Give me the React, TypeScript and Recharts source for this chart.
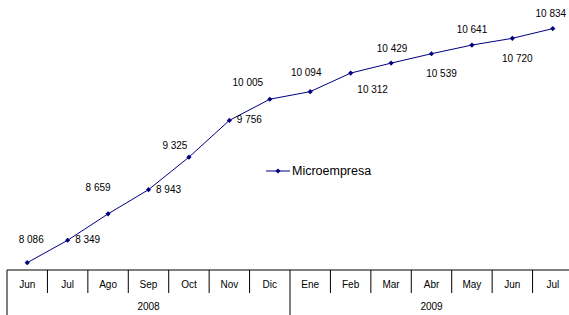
import React from 'react';
import { LineChart, Line, XAxis, YAxis, Legend, LabelList } from 'recharts';

const months = ['Jun', 'Jul', 'Ago', 'Sep', 'Oct', 'Nov', 'Dic', 'Ene', 'Feb', 'Mar', 'Abr', 'May', 'Jun', 'Jul'];
const years = ['2008', '2008', '2008', '2008', '2008', '2008', '2008', '2009', '2009', '2009', '2009', '2009', '2009', '2009'];
const microempresa = [8086, 8349, 8659, 8943, 9325, 9756, 10005, 10094, 10312, 10429, 10539, 10641, 10720, 10834];

// hand-placed label offsets (dx, dy from the point to the text centre), like the original
const labelOffsets: [number, number][] = [
  [4, -23], [20, -1], [-10, -26], [20, 0], [-14, -12], [20, -1], [-22, -17],
  [-4, -19], [22, 16], [1, -15], [10, 20], [0, -16], [5, 20], [-2, -15],
];

const data = months.map((m, i) => ({ idx: i, month: m, year: years[i], value: microempresa[i] }));

const CHART_W = 580;
const CHART_H = 315;
const AXIS_H = 45;
const MARGIN_X = 7;
const AXIS_Y = CHART_H - AXIS_H;
const STEP = (CHART_W - 2 * MARGIN_X) / months.length;
const FONT = 'Arial, "Liberation Sans", sans-serif';
const NAVY = '#000080';

const fmt = (v: number) => String(v).replace(/\B(?=(\d{3})+(?!\d))/g, ' ');

const Diamond = ({ cx, cy, r = 2.6 }: { cx: number; cy: number; r?: number }) => (
  <path d={`M${cx},${cy - r}L${cx + r},${cy}L${cx},${cy + r}L${cx - r},${cy}Z`} fill={NAVY} />
);

const MonthTick = (props: any) => {
  const { x, index } = props;
  const half = STEP / 2;
  const group = years.map((_, i) => i).filter((i) => years[i] === years[index]);
  const first = index === group[0];
  const last = index === months.length - 1;
  const groupMid = x + ((group[0] + group[group.length - 1]) / 2 - index) * STEP;
  return (
    <g>
      <line x1={x - half} x2={x - half} y1={AXIS_Y} y2={first ? CHART_H : AXIS_Y + 23} stroke="#000" />
      {last && <line x1={x + half} x2={x + half} y1={AXIS_Y} y2={CHART_H} stroke="#000" />}
      <text x={x} y={AXIS_Y + 14} dy="0.35em" textAnchor="middle" fontSize={10} fontFamily={FONT} fill="#000">
        {months[index]}
      </text>
      {first && (
        <text x={groupMid} y={AXIS_Y + 36.5} dy="0.35em" textAnchor="middle" fontSize={10} fontFamily={FONT} fill="#000">
          {years[index]}
        </text>
      )}
    </g>
  );
};

const renderLabel = (props: any) => {
  const { x, y, value, index } = props;
  const [dx, dy] = labelOffsets[index];
  return (
    <text x={x + dx} y={y + dy} dy="0.35em" textAnchor="middle" fontSize={10} fontFamily={FONT} fill="#000">
      {fmt(value)}
    </text>
  );
};

const renderLegend = () => (
  <div style={{ display: 'flex', alignItems: 'center', fontFamily: FONT, fontSize: 12.5, color: '#000' }}>
    <svg width={25} height={10} style={{ marginRight: 1 }}>
      <line x1={0} x2={24} y1={5} y2={5} stroke={NAVY} />
      <Diamond cx={12} cy={5} />
    </svg>
    <span>Microempresa</span>
  </div>
);

export default function App() {
  return (
    <div style={{ position: 'absolute', left: 0, top: 0, width: 569, height: 315, overflow: 'hidden', background: '#fff' }}>
      <LineChart width={CHART_W} height={CHART_H} data={data} margin={{ top: 0, right: MARGIN_X, left: MARGIN_X, bottom: 0 }}>
        <XAxis
          dataKey="idx"
          type="category"
          scale="point"
          padding={{ left: STEP / 2, right: STEP / 2 }}
          height={AXIS_H}
          axisLine={{ stroke: '#000' }}
          tickLine={false}
          tick={<MonthTick />}
          interval={0}
        />
        <YAxis hide domain={[8000, 11170]} />
        <Legend
          content={renderLegend}
          verticalAlign="middle"
          align="center"
          wrapperStyle={{ left: 266, top: 164, width: 'auto' }}
        />
        <Line
          type="linear"
          dataKey="value"
          stroke={NAVY}
          strokeWidth={1}
          dot={(p: any) => <Diamond key={`d-${p.index}`} cx={p.cx} cy={p.cy} />}
          activeDot={false}
          isAnimationActive={false}
        >
          <LabelList dataKey="value" content={renderLabel} />
        </Line>
      </LineChart>
    </div>
  );
}
